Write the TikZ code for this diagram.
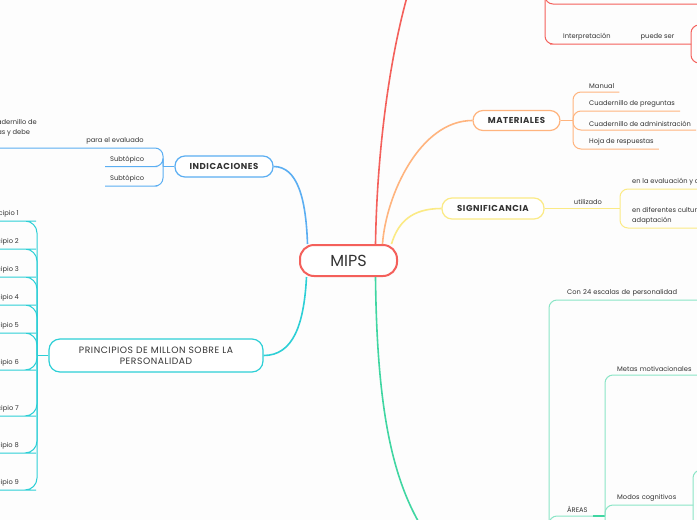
\documentclass[tikz,border=0pt]{standalone}
\usepackage{fontspec}
\setmainfont{Poppins}
\newfontfamily\topicfont[LetterSpace=6]{Poppins}
\definecolor{bg}{HTML}{FDFDFD}
\definecolor{txt}{HTML}{333333}
\definecolor{cred}{HTML}{F4605B}
\definecolor{corange}{HTML}{FFB47E}
\definecolor{cyellow}{HTML}{FBEA85}
\definecolor{cblue}{HTML}{5BAEF2}
\definecolor{ccyan}{HTML}{2DCFD6}
\definecolor{cgreen}{HTML}{40D6A2}
\definecolor{cgreenl}{HTML}{8BE5C6}
\begin{document}
\begin{tikzpicture}[x=1pt,y=-1pt,
  topic/.style={draw, line width=1.2pt, rounded corners=10pt, fill=white, text=txt, inner sep=0pt, font=\topicfont\bfseries\fontsize{8.6}{10}\selectfont},
  leaf/.style={text=txt, inner xsep=5pt, inner ysep=3.5pt, font=\fontsize{6.7}{10}\selectfont},
  clabel/.style={text=txt, inner sep=0pt, font=\fontsize{6.7}{8}\selectfont},
  branch/.style={line width=1.6pt},
  sub/.style={line width=1pt, rounded corners=8pt}]

\useasboundingbox (0,0) rectangle (697,520);
\fill[bg] (0,0) rectangle (697,520);

% free ends
\coordinate (rtopc) at (412,-20);
\coordinate (gbot) at (430,540);
\coordinate (rt) at (545,-25);
\coordinate (rtop) at (705,4);
\coordinate (rf2) at (691,44);
\coordinate (pA) at (705,25);
\coordinate (pB) at (705,63);
\coordinate (mf) at (573,120.5);
\coordinate (sf) at (620,208.5);
\coordinate (bf) at (163,166.5);
\coordinate (cf) at (37,355.5);
\coordinate (gt) at (549,550);
\coordinate (gf) at (605,516);
\coordinate (gA) at (705,470);
\coordinate (gB) at (693,535);
\coordinate (gC) at (605,535);

% topics
\node[draw=cred, line width=2pt, rounded corners=14pt, fill=white, minimum width=97pt, minimum height=31pt, inner sep=0pt, text=txt, font=\fontsize{16}{18}\selectfont] (mips) at (348.5,260.5) {MIPS};
\node[topic, draw=corange, minimum width=87pt, minimum height=20pt] (mat) at (516.5,120.5) {MATERIALES};
\node[topic, draw=cyellow, minimum width=102pt, minimum height=21pt] (sig) at (493,208.5) {SIGNIFICANCIA};
\node[topic, draw=cblue, minimum width=98pt, minimum height=21pt] (ind) at (224,166.5) {INDICACIONES};
\node[topic, draw=ccyan, rounded corners=11pt, font=\topicfont\fontsize{9.2}{11}\selectfont, minimum width=214pt, minimum height=33pt, align=center] (pri) at (156,355.5) {PRINCIPIOS DE MILLON SOBRE LA\\PERSONALIDAD};

% main branches
\draw[branch, cred] ([xshift=27pt]mips.north) .. controls (377,150) and (390,50) .. (rtopc);
\draw[branch, corange] ([xshift=34pt]mips.north) .. controls (386,195) and (420,120.5) .. (mat.west);
\draw[branch, cyellow] ([xshift=43pt]mips.north) .. controls (398,222) and (412,208.5) .. (sig.west);
\draw[branch, cblue] ([xshift=-41pt]mips.north) .. controls (306,200) and (298,166.5) .. (ind.east);
\draw[branch, ccyan] ([xshift=-42pt]mips.south) .. controls (304,325) and (293,355.5) .. (pri.east);
\draw[branch, cgreen] ([xshift=27pt]mips.south) .. controls (377,420) and (395,490) .. (gbot);

% red
\node[leaf, anchor=south west] (interp) at (558,44) {Interpretación};
\node[clabel] (pds) at (657.5,37) {puede ser};
\draw[sub, cred] (rt) |- (rtop);
\draw[sub, cred] (rt) |- (interp.south west) -- (rf2);
\draw[sub, cred] (rf2) |- (pA);
\draw[sub, cred] (rf2) |- (pB);

% materiales
\node[leaf, anchor=south west] (m1) at (584,92) {Manual};
\node[leaf, anchor=south west] (m2) at (584,111) {Cuadernillo de preguntas};
\node[leaf, anchor=south west] (m3) at (584,130) {Cuadernillo de administración};
\node[leaf, anchor=south west] (m4) at (584,149) {Hoja de respuestas};
\draw[sub, corange] (mat.east) -- (mf);
\foreach \n in {m1,m2,m3,m4} \draw[sub, corange] (mf) |- (\n.south east);

% significancia
\node[clabel] (util) at (588,201.5) {utilizado};
\node[leaf, anchor=south west] (y1) at (627,189) {en la evaluación y diagnóstico};
\node[leaf, anchor=south west, align=left] (y2) at (627,228) {en diferentes culturas y su\\adaptación};
\draw[sub, cyellow] (sig.east) -- (sf);
\draw[sub, cyellow] (sf) |- (y1.south east);
\draw[sub, cyellow] (sf) |- (y2.south east);

% indicaciones
\node[leaf, anchor=south west] (s1) at (105,166.5) {Subtópico};
\node[leaf, anchor=south west] (s2) at (105,186) {Subtópico};
\node[leaf, anchor=south west, align=left, inner ysep=12pt] (cu) at (-37,148) {Lee el cuadernillo de\\respuestas y debe};
\node[clabel] (pe) at (115,141) {para el evaluado};
\draw[sub, cblue] (ind.west) -- (bf);
\draw[sub, cblue] (bf) |- (s1.south east) -- (s1.south west);
\draw[sub, cblue] (bf) |- (s2.south east) -- (s2.south west);
\draw[sub, cblue] (bf) |- (cu.south) -- (cu.south west);

% principios
\foreach \i/\y in {1/221,2/249,3/277,4/305,5/333,6/370,7/416,8/453,9/490} {
  \node[leaf, anchor=south east] (p\i) at (24,\y) {Principio \i};
  \draw[sub, ccyan, rounded corners=12pt] (cf) |- (p\i.south east) -- (p\i.south west);
}
\draw[sub, ccyan] (pri.west) -- (cf);

% green
\node[leaf, anchor=south west, text width=125pt, align=left] (con) at (562,300) {Con 24 escalas de personalidad};
\node[leaf, anchor=south west] (areas) at (562,516) {ÁREAS};
\node[leaf, anchor=south west, text width=100pt, align=left] (metas) at (612,375) {Metas motivacionales};
\node[leaf, anchor=south west, text width=71pt, align=left] (modos) at (612,505) {Modos cognitivos};
\draw[sub, cgreenl] (gt) |- (con.south east);
\draw[sub, cgreenl] (gt) |- (areas.south east);
\draw[line width=1.6pt, cgreen] (areas.south east) -- (gf);
\draw[sub, cgreenl] (gC) |- (metas.south east);
\draw[sub, cgreenl] (gf) |- (modos.south east);
\draw[sub, cgreenl] (gB) |- (gA);
\end{tikzpicture}
\end{document}
